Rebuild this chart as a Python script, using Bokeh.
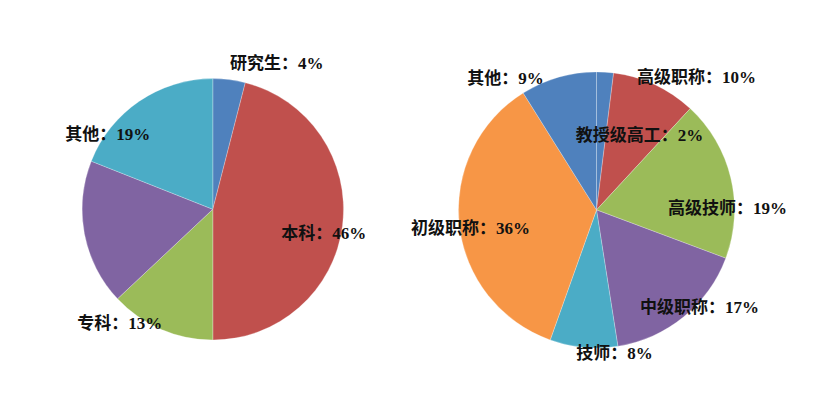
import numpy as np
from bokeh.plotting import figure
from bokeh.models import ColumnDataSource, Range1d
from bokeh.core.properties import value
from bokeh.embed import file_html
from bokeh.resources import INLINE

# left pie: education level (the purple slice carries no label in the source)
edu_names = ["研究生", "本科", "专科", "中专", "其他"]
edu_values = [4, 46, 13, 18, 19]
edu_labelled = [True, True, True, False, True]

# right pie: professional titles
title_names = ["教授级高工", "高级职称", "高级技师", "中级职称", "技师", "初级职称", "其他"]
title_values = [2, 10, 19, 17, 8, 36, 9]

# excel 2007 palette
edu_colors = ["#4F81BD", "#C0504D", "#9BBB59", "#8064A2", "#4BACC6"]
title_colors = ["#4F81BD", "#C0504D", "#9BBB59", "#8064A2", "#4BACC6", "#F79646", "#4F81BD"]

# layout (pixels, y up)
W, H = 809, 401
left_center, left_r = (212.3, 192.2), 130.7
right_center, right_r = (596.0, 191.6), 138.0
# label offsets from each pie centre, as placed by hand in the original
edu_label_off = [(64, 146), (111, -24), (-93, -114), None, (-105, 75)]
title_label_off = [(43, 74), (100, 132), (131, 1), (103, -98), (18, -144), (-126, -19), (-91, 131)]

FONT = value("Liberation Serif, Noto Sans CJK SC")


def pie(p, center, r, values, colors):
  vals = np.array(values, dtype=float)
  cum = np.concatenate([[0], np.cumsum(vals)]) / vals.sum()
  # clockwise from 12 o'clock
  start = np.pi / 2 - 2 * np.pi * cum[:-1]
  end = np.pi / 2 - 2 * np.pi * cum[1:]
  src = ColumnDataSource(dict(start=start, end=end, color=colors))
  p.wedge(x=center[0], y=center[1], radius=r, start_angle="start", end_angle="end",
          direction="clock", fill_color="color", line_color="white", line_width=0.5,
          line_alpha=0.5, source=src)


def labels(p, center, names, values, offsets):
  xs, ys, txt = [], [], []
  for n, v, off in zip(names, values, offsets):
    if off is None:
      continue
    xs.append(center[0] + off[0])
    ys.append(center[1] + off[1])
    txt.append(f"{n}：{v}%")
  p.text(xs, ys, text=txt, text_font=FONT, text_font_size="17px", text_font_style="bold",
         text_color="#111111", text_align="center", text_baseline="middle")


p = figure(width=W, height=H, x_range=Range1d(0, W), y_range=Range1d(0, H),
           output_backend="svg", toolbar_location=None, min_border=0)
p.axis.visible = False
p.grid.visible = False
p.outline_line_color = None

pie(p, left_center, left_r, edu_values, edu_colors)
pie(p, right_center, right_r, title_values, title_colors)

edu_offs = [o if show else None for o, show in zip(edu_label_off, edu_labelled)]
labels(p, left_center, edu_names, edu_values, edu_offs)
labels(p, right_center, title_names, title_values, title_label_off)

open("out.html", "w").write(file_html(p, INLINE))
